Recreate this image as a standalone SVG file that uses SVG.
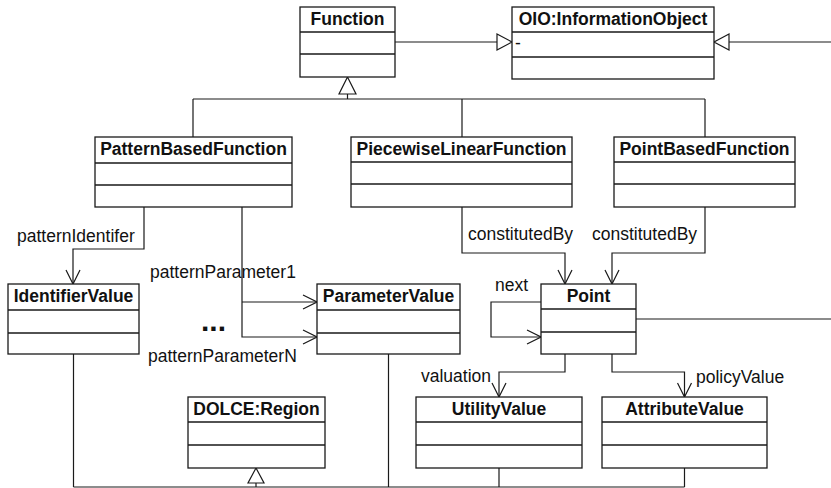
<svg xmlns="http://www.w3.org/2000/svg" width="831" height="488" viewBox="0 0 831 488">
  <style>
    .box { fill: #fff; stroke: #1a1a1a; stroke-width: 1.3; }
    .div { stroke: #1a1a1a; stroke-width: 1.3; }
    .name { font-family: "Liberation Sans", Arial, Helvetica, sans-serif; font-size: 17.5px; font-weight: bold; fill: #111; text-anchor: middle; }
    .attr { font-family: "Liberation Sans", Arial, Helvetica, sans-serif; font-size: 17.5px; fill: #111; }
    .lbl { font-family: "Liberation Sans", Arial, Helvetica, sans-serif; font-size: 17.5px; fill: #111; }
    .dots { font-family: "Liberation Sans", Arial, Helvetica, sans-serif; font-size: 30px; font-weight: bold; fill: #111; }
    .edge { fill: none; stroke: #1a1a1a; stroke-width: 1.2; }
    .assoc { marker-end: url(#open); }
    .gen { fill: #fff; stroke: #1a1a1a; stroke-width: 1.2; }
  </style>
  <defs>
    <marker id="open" viewBox="0 0 16 16" refX="15" refY="8" markerWidth="16" markerHeight="16" markerUnits="userSpaceOnUse" orient="auto">
      <path d="M1,1 L15,8 L1,15" fill="none" stroke="#1a1a1a" stroke-width="1.2"/>
    </marker>
  </defs>

  <!-- connectors -->
  <g id="connectors">
    <!-- Function specialises OIO:InformationObject -->
    <path class="edge" d="M395,42 H497"/>
    <polygon class="gen" points="497,34 512,42 497,50"/>
    <!-- incoming generalisation on the right of OIO:InformationObject -->
    <path class="edge" d="M729,42 H831"/>
    <polygon class="gen" points="729,34 714,42 729,50"/>

    <!-- subclasses of Function -->
    <path class="edge" d="M347.5,94 V99 M193,99 H705 M193,99 V137 M462,99 V137 M705,99 V137"/>
    <polygon class="gen" points="347.5,77 339,94 356,94"/>

    <!-- patternIdentifer -->
    <path class="edge assoc" d="M144,207 V249 H73 V284"/>
    <!-- patternParameter1 .. N -->
    <path class="edge assoc" d="M242,207 V337 H317"/>
    <path class="edge assoc" d="M242,302 H317"/>

    <!-- constitutedBy -->
    <path class="edge assoc" d="M462,207 V253 H565 V284"/>
    <path class="edge assoc" d="M705,207 V253 H612 V284"/>

    <!-- next (self association) -->
    <path class="edge assoc" d="M541,302 H491 V337 H541"/>
    <!-- Point to the right -->
    <path class="edge" d="M636,319 H831"/>

    <!-- valuation / policyValue -->
    <path class="edge assoc" d="M565,354 V372 H499 V397"/>
    <path class="edge assoc" d="M612,354 V372 H684.5 V397"/>

    <!-- subclasses of DOLCE:Region -->
    <path class="edge" d="M73.5,354 V487 M388.5,354 V487 M499,468 V487 M684.5,468 V487 M73.5,487 H684.5 M256,483 V487"/>
    <polygon class="gen" points="256,468 248,483 264,483"/>

    <!-- association labels -->
    <text class="lbl" x="17" y="242">patternIdentifer</text>
    <text class="lbl" x="150" y="278">patternParameter1</text>
    <text class="lbl" x="148" y="362">patternParameterN</text>
    <text class="dots" x="201" y="331">...</text>
    <text class="lbl" x="468" y="240">constitutedBy</text>
    <text class="lbl" x="592" y="240">constitutedBy</text>
    <text class="lbl" x="495" y="291">next</text>
    <text class="lbl" x="421" y="382">valuation</text>
    <text class="lbl" x="696" y="383">policyValue</text>
  </g>

  <!-- classes -->
  <g id="Function">
    <rect class="box" x="300" y="7" width="95" height="70"/>
    <path class="div" d="M300,32 H395 M300,54 H395"/>
    <text class="name" x="347.5" y="25">Function</text>
  </g>

  <g id="InformationObject">
    <rect class="box" x="512" y="7" width="202" height="72"/>
    <path class="div" d="M512,32 H714 M512,57 H714"/>
    <text class="name" x="613" y="25">OIO:InformationObject</text>
    <text class="attr" x="515" y="49">-</text>
  </g>

  <g id="PatternBasedFunction">
    <rect class="box" x="95" y="137" width="197" height="70"/>
    <path class="div" d="M95,163 H292 M95,185 H292"/>
    <text class="name" x="193.5" y="155">PatternBasedFunction</text>
  </g>

  <g id="PiecewiseLinearFunction">
    <rect class="box" x="351" y="137" width="221" height="70"/>
    <path class="div" d="M351,162 H572 M351,184 H572"/>
    <text class="name" x="461.5" y="155">PiecewiseLinearFunction</text>
  </g>

  <g id="PointBasedFunction">
    <rect class="box" x="614" y="137" width="181" height="70"/>
    <path class="div" d="M614,162 H795 M614,184 H795"/>
    <text class="name" x="704.5" y="155">PointBasedFunction</text>
  </g>

  <g id="IdentifierValue">
    <rect class="box" x="8" y="284" width="131" height="70"/>
    <path class="div" d="M8,310 H139 M8,333 H139"/>
    <text class="name" x="73.5" y="302">IdentifierValue</text>
  </g>

  <g id="ParameterValue">
    <rect class="box" x="317" y="284" width="143" height="70"/>
    <path class="div" d="M317,310 H460 M317,333 H460"/>
    <text class="name" x="388.5" y="302">ParameterValue</text>
  </g>

  <g id="Point">
    <rect class="box" x="541" y="284" width="95" height="70"/>
    <path class="div" d="M541,309 H636 M541,332 H636"/>
    <text class="name" x="588.5" y="302">Point</text>
  </g>

  <g id="Region">
    <rect class="box" x="188" y="397" width="137" height="71"/>
    <path class="div" d="M188,422 H325 M188,445 H325"/>
    <text class="name" x="256.5" y="415">DOLCE:Region</text>
  </g>

  <g id="UtilityValue">
    <rect class="box" x="416" y="397" width="166" height="71"/>
    <path class="div" d="M416,422 H582 M416,445 H582"/>
    <text class="name" x="499" y="415">UtilityValue</text>
  </g>

  <g id="AttributeValue">
    <rect class="box" x="602" y="397" width="165" height="71"/>
    <path class="div" d="M602,422 H767 M602,445 H767"/>
    <text class="name" x="684.5" y="415">AttributeValue</text>
  </g>
</svg>
